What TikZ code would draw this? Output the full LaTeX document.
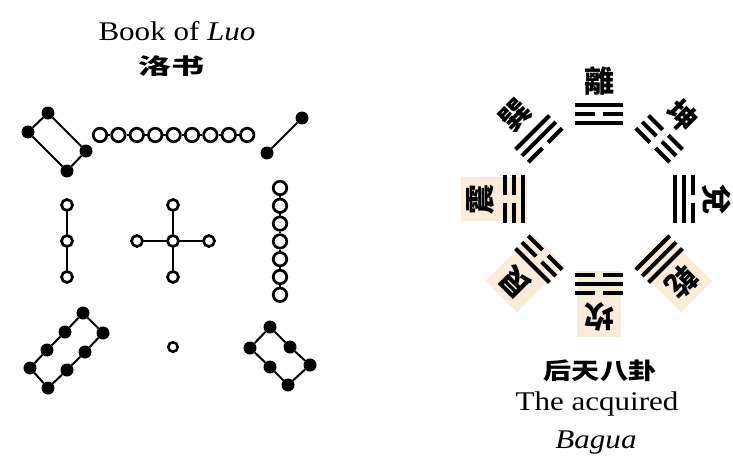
\documentclass[tikz,border=0pt]{standalone}
\usepackage{fontspec}
\setmainfont{Liberation Serif}[FakeStretch=1.15]
\newfontfamily\cjksc{Noto Sans CJK SC}
\newfontfamily\cjktc{Noto Sans CJK TC}
\newcommand\trline[2]{\ifnum#2=1 \draw[tri] (-24,#1)--(24,#1);\else\draw[tri] (-24,#1)--(-4,#1) (4,#1)--(24,#1);\fi}
\begin{document}
\begin{tikzpicture}[x=1pt,y=1pt,
  bdot/.style={circle,fill=black,inner sep=0pt,minimum size=13pt},
  odot/.style={circle,draw=black,line width=2.7pt,fill=white,inner sep=0pt,minimum size=11pt},
  rowdot/.style={odot,minimum size=13.5pt},
  smalldot/.style={odot,minimum size=9.5pt,line width=2.5pt},
  link/.style={line width=2pt},
  tri/.style={line width=4pt},
  hl/.style={fill={rgb,255:red,251;green,236;blue,218}},
  lat/.style={font=\fontsize{27}{30}\selectfont,inner sep=0pt},
  charsty/.style={font=\cjktc\bfseries\fontsize{30}{30}\selectfont,inner sep=0pt},
]
\useasboundingbox (0,0) rectangle (733,467);
\begin{scope}[shift={(0,467)},yscale=-1]
  % titles
  \node[lat] (t1) at (177,31) {Book of \textit{Luo}};
  \node[font=\cjksc\bfseries\fontsize{22}{22}\selectfont,inner sep=0pt] (t2) at (171,66) {\scalebox{1.5}[1]{洛书}};
  \node[font=\cjksc\bfseries\fontsize{23}{23}\selectfont,inner sep=0pt] (t3) at (600,371) {\scalebox{1.22}[1]{后天八卦}};
  \node[lat] (t4) at (597,404) {The acquired};
  \node[lat] (t5) at (596,443) {\textit{Bagua}};
  % 4
  \node[bdot] (f1) at (48,113) {};
  \node[bdot] (f2) at (28,132) {};
  \node[bdot] (f3) at (67,171) {};
  \node[bdot] (f4) at (86,151) {};
  \draw[link] (f1)--(f2)--(f3)--(f4)--(f1);
  % 9
  \foreach \i in {1,...,9} \node[rowdot] (n\i) at ({100+18.4*(\i-1)},135) {};
  \foreach \i [evaluate=\i as \j using int(\i+1)] in {1,...,8} \draw[link] (n\i)--(n\j);
  % 2
  \node[bdot] (w1) at (302,118) {};
  \node[bdot] (w2) at (267,153) {};
  \draw[link] (w1)--(w2);
  % 3
  \node[odot] (h1) at (67,205) {};
  \node[odot] (h2) at (67,241) {};
  \node[odot] (h3) at (67,277) {};
  \draw[link] (h1)--(h2)--(h3);
  % 5
  \node[odot] (c0) at (173,241) {};
  \node[odot] (c1) at (173,205) {};
  \node[odot] (c2) at (173,277) {};
  \node[odot] (c3) at (137,241) {};
  \node[odot] (c4) at (209,241) {};
  \draw[link] (c0)--(c1) (c0)--(c2) (c0)--(c3) (c0)--(c4);
  % 7
  \foreach \i in {1,...,7} \node[rowdot] (s\i) at (280,{188+17.8*(\i-1)}) {};
  \foreach \i [evaluate=\i as \j using int(\i+1)] in {1,...,6} \draw[link] (s\i)--(s\j);
  % 8
  \node[bdot] (a1) at (83,313) {};
  \node[bdot] (a2) at (65,332) {};
  \node[bdot] (a3) at (47,350) {};
  \node[bdot] (a4) at (30,368) {};
  \node[bdot] (b1) at (103,333) {};
  \node[bdot] (b2) at (85,352) {};
  \node[bdot] (b3) at (67,370) {};
  \node[bdot] (b4) at (48,388) {};
  \draw[link] (a1)--(a2)--(a3)--(a4)--(b4)--(b3)--(b2)--(b1)--(a1);
  % 1
  \node[smalldot] (m1) at (173,347) {};
  % 6
  \node[bdot] (d1) at (270,327) {};
  \node[bdot] (d2) at (290,347) {};
  \node[bdot] (d3) at (310,365) {};
  \node[bdot] (e1) at (250,348) {};
  \node[bdot] (e2) at (270,367) {};
  \node[bdot] (e3) at (288,385) {};
  \draw[link] (d1)--(d2)--(d3)--(e3)--(e2)--(e1)--(d1);
\end{scope}
% Bagua
\begin{scope}[shift={(599,268)}]
  \foreach \a/\b/\m/\t/\ch/\h in {90/1/0/1/離/0, 45/0/0/0/坤/0, 0/1/1/0/兌/0, -45/1/1/1/乾/1,
      -90/0/1/0/坎/1, -135/0/0/1/艮/1, 180/1/0/0/震/1, 135/0/1/1/巽/0}{
    \begin{scope}[rotate=\a-90]
      \ifnum\h=1 \fill[hl] (-22,72) rectangle (22,138);\fi
      \trline{76}{\b}
      \trline{85}{\m}
      \trline{94}{\t}
    \end{scope}
    \node[charsty,rotate=\a-90] (g\a) at (\a:118) {\ch};
  }
\end{scope}
\end{tikzpicture}
\end{document}
